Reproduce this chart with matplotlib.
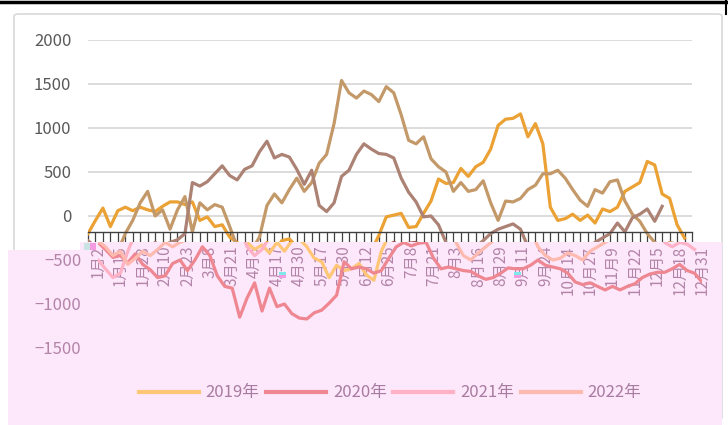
import numpy as np
import matplotlib
matplotlib.use('Agg')
from matplotlib import pyplot as plt
from matplotlib.patches import Polygon, FancyBboxPatch, Rectangle
from matplotlib.lines import Line2D

plt.rcParams['font.family'] = ['Noto Sans CJK SC', 'DejaVu Sans']

nan = np.nan

# x axis: one label every 3 points
tick_labels = ['1月2', '1月15', '1月28', '2月10', '2月23', '3月8', '3月21', '4月3',
               '4月17', '4月30', '5月17', '5月30', '6月12', '6月25', '7月8', '7月21',
               '8月3', '8月16', '8月29', '9月11', '9月24', '10月14', '10月27', '11月9',
               '11月22', '12月5', '12月18', '12月31']

years = ['2019年', '2020年', '2021年', '2022年']

y2019 = [-200, -50, 90, -120, 60, 100, 60, 100, 70, 50,
         110, 160, 160, 130, 160, -50, -10, -120, -100, -240,
         -300, -380, -330, -420, -300, -400, -280, -260, -350, -480,
         -520, -700, -560, -620, -600, -540, -670, -730, -400, -220,
         -10, 10, 30, -130, -120, 30, 170, 420, 370, 380,
         540, 450, 560, 610, 760, 1030, 1100, 1110, 1160, 900,
         1050, 820, 100, -50, -30, 20, -50, 10, -80, 80,
         50, 100, 280, 330, 380, 620, 580, 250, 200, -100,
         -250, nan]

y2020 = [-300, -380, -470, -450, -530, -430, -550, -610, -700, -680,
         -540, -500, -620, -500, -350, -450, -680, -800, -820, -1150,
         -930, -760, -1080, -820, -1030, -1000, -1110, -1160, -1170, -1100,
         -1070, -990, -900, -520, -600, -580, -600, -650, -620, -480,
         -350, -300, -340, -310, -300, -480, -600, -580, -600, -620,
         -630, -680, -720, -700, -650, -590, -600, -600, -560, -500,
         -560, -580, -600, -650, -750, -780, -760, -800, -840, -800,
         -840, -800, -770, -700, -660, -640, -640, -600, -550, -620,
         -650, -750]

y2021 = [-500, -600, -700, -650, -400, -200, -50, 150, 280, 0,
         70, -150, 70, 220, -180, 150, 70, 130, 100, -120,
         -350, -450, -380, -240, 120, 250, 150, 300, 430, 280,
         380, 600, 700, 1050, 1540, 1400, 1340, 1420, 1380, 1300,
         1470, 1400, 1150, 860, 820, 900, 650, 560, 500, 280,
         380, 280, 300, 400, 150, -50, 170, 160, 200, 300,
         350, 480, 480, 520, 430, 300, 180, 110, 300, 260,
         390, 410, 170, 20, -60, -200, -300, -350, -300, -320,
         -380, nan]

y2022 = [-280, -350, -450, -400, -550, -480, -400, -450, -380, -300,
         -350, -300, -270, -200, 380, 340, 390, 480, 570, 460,
         410, 530, 570, 730, 850, 660, 700, 670, 530, 360,
         520, 120, 50, 150, 450, 520, 700, 820, 760, 710,
         700, 660, 430, 270, 160, -10, 0, -100, -300, -450,
         -500, -420, -350, -280, -200, -150, -120, -90, -150, -350,
         -450, -500, -480, -420, -450, -500, -400, -350, -300, -250,
         -200, -80, -180, -20, 20, 80, -60, 110, nan, nan,
         nan, nan]

series = [y2019, y2020, y2021, y2022]
top_colors = ['#EBA133', '#A0524C', '#C4996A', '#AC8274']
pink_colors = ['#FFC676', '#EE8791', '#FFB1C6', '#FFBAAF']

W, H = 728.0, 425.0


def fx(px):
    return px / W


def fy(py):
    return 1 - py / H


fig = plt.figure(figsize=(7.28, 4.25), dpi=100)

# page line and chart frame
fig.add_artist(Line2D([0, 1], [fy(1.5), fy(1.5)], transform=fig.transFigure,
                      color='black', lw=2.5, zorder=-2))
fig.add_artist(Line2D([fx(726), fx(726)], [fy(0), fy(14)], transform=fig.transFigure,
                      color='black', lw=1.5, zorder=-2))
frame = FancyBboxPatch((fx(14), fy(420)), fx(722) - fx(14), fy(14) - fy(420),
                       boxstyle='round,pad=0,rounding_size=0.006',
                       transform=fig.transFigure, facecolor='white',
                       edgecolor='#D9D9D9', lw=1.2, zorder=-1)
fig.add_artist(frame)

x = np.arange(len(y2019))
tick_pos = x[::3]

# main chart
ax = fig.add_axes([fx(88), fy(348), fx(692) - fx(88), fy(40) - fy(348)])
ax.set_xlim(0, 81)
ax.set_ylim(-1500, 2000)
yt = list(range(-1500, 2001, 500))
ax.set_yticks(yt)
ax.set_yticklabels([str(v) if v >= 0 else '' for v in yt])
ax.yaxis.grid(True, color='#D9D9D9', lw=1.3)
ax.set_axisbelow(True)
for s in ['left', 'right', 'top']:
    ax.spines[s].set_visible(False)
ax.spines['bottom'].set_position(('data', -180))
ax.spines['bottom'].set_color('#404040')
ax.spines['bottom'].set_linewidth(1.0)
ax.spines['bottom'].set_zorder(3)
ax.set_xticks(x)
ax.tick_params(axis='x', direction='out', length=7, width=0.9, color='#404040',
               labelbottom=False, zorder=3)
ax.tick_params(axis='y', length=0, pad=12, labelsize=12, labelcolor='#595959')
ax.set_facecolor('none')
for ys, c in zip(series, top_colors):
    ax.plot(x, np.array(ys, dtype=float), color=c, lw=2.3, solid_joinstyle='round')

# pink band over the lower part
poly_px = [(8, 425), (8, 250), (80, 250), (80, 242), (722, 242), (722, 425)]
pink = Polygon([(fx(a), fy(b)) for a, b in poly_px], closed=True,
               transform=fig.transFigure, facecolor='#FDE7FB', edgecolor='none',
               zorder=1)
fig.add_artist(pink)

# small glitch blocks
for (px0, py0, w, h, c) in [(84, 243, 6, 7, '#C9E2E2'), (90, 243, 6, 7, '#F39AE0'),
                            (279, 272, 7, 3, '#7FE8E8'), (279, 275, 7, 3, '#F39AE0'),
                            (514, 272, 7, 3, '#7FE8E8'), (514, 275, 7, 3, '#F39AE0')]:
    fig.add_artist(Rectangle((fx(px0), fy(py0 + h)), w / W, h / H,
                             transform=fig.transFigure, facecolor=c,
                             edgecolor='none', zorder=3))

# copy of the chart inside the band, a bit to the right
ax2 = fig.add_axes([fx(98), fy(348), fx(692) - fx(88), fy(40) - fy(348)], zorder=2)
ax2.patch.set_visible(False)
ax2.set_xlim(0, 81)
ax2.set_ylim(-1500, 2000)
for s in ax2.spines.values():
    s.set_visible(False)
ax2.spines['bottom'].set_position(('data', -180))
ax2.set_yticks([-1500, -1000, -500])
ax2.tick_params(axis='y', length=0, pad=12, labelsize=12, labelcolor='#B384A8')
ax2.set_xticks(tick_pos)
ax2.set_xticklabels(tick_labels, rotation=90)
ax2.tick_params(axis='x', length=0, pad=10, labelsize=11, labelcolor='#B384A8')
for ys, c in zip(series, pink_colors):
    ln, = ax2.plot(x, np.array(ys, dtype=float), color=c, lw=2.3,
                   solid_joinstyle='round')
    ln.set_clip_path(pink)

handles = [Line2D([0], [0], color=c, lw=3) for c in pink_colors]
ax2.legend(handles, years, loc='center', bbox_to_anchor=(fx(390), fy(393)),
           bbox_transform=fig.transFigure, ncol=4, frameon=False,
           handlelength=3.6, handletextpad=0.4, columnspacing=0.4,
           fontsize=12, labelcolor='#A87BA0')

plt.savefig('out.png', dpi=100)
